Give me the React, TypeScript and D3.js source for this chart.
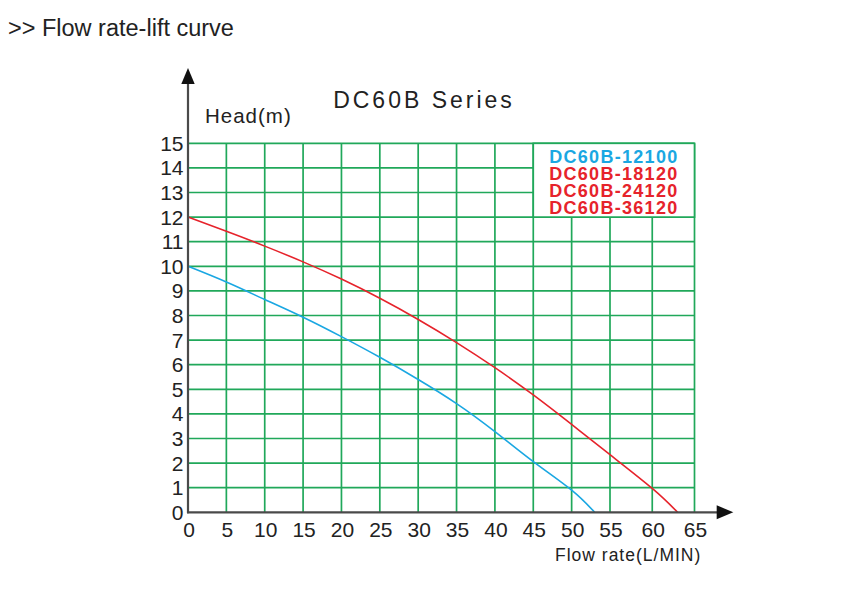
import * as d3 from "d3";

// Flow rate (L/MIN) vs head (m)
const flowTicks = [0, 5, 10, 15, 20, 25, 30, 35, 40, 45, 50, 55, 60, 65];
const headTicks = [0, 1, 2, 3, 4, 5, 6, 7, 8, 9, 10, 11, 12, 13, 14, 15];

const blueFlow = [0, 5, 10, 15, 20, 25, 30, 35, 40, 45, 50, 53];
const blueHead = [10, 9.36, 8.65, 7.93, 7.14, 6.3, 5.4, 4.42, 3.28, 2.06, 0.9, 0];

const redFlow = [0, 5, 10, 15, 20, 25, 30, 35, 40, 45, 50, 55, 60, 63];
const redHead = [12, 11.42, 10.82, 10.18, 9.48, 8.7, 7.84, 6.9, 5.88, 4.77, 3.57, 2.34, 0.97, 0];

const legendItems = [
  { label: "DC60B-12100", color: "#1aa7e2" },
  { label: "DC60B-18120", color: "#e6232b" },
  { label: "DC60B-24120", color: "#e6232b" },
  { label: "DC60B-36120", color: "#e6232b" },
];

const WIDTH = 841;
const HEIGHT = 596;
const FONT = "'Liberation Sans', Arial, Helvetica, sans-serif";
const GRID = "#20a85a";
const AXIS = "#4a4a4a";

export default function App() {
  // the original grid is slightly stretched past 55
  const x = d3.scaleLinear().domain([0, 55, 65]).range([188, 610, 694.5]);
  const y = d3.scaleLinear().domain([0, 15]).range([512.3, 143.3]);

  const line = d3
    .line<[number, number]>()
    .x((d) => x(d[0]))
    .y((d) => y(d[1]))
    .curve(d3.curveNatural);

  const bluePts = blueFlow.map((f, i) => [f, blueHead[i]] as [number, number]);
  const redPts = redFlow.map((f, i) => [f, redHead[i]] as [number, number]);

  const x0 = x(0);
  const y0 = y(0);
  const xMax = x(65);
  const yMax = y(15);

  const boxX = x(45);
  const boxW = x(65) - x(45);
  const boxY = y(15);
  const boxH = y(12) - y(15);
  const boxCx = boxX + boxW / 2;

  return (
    <svg
      width={WIDTH}
      height={HEIGHT}
      style={{ position: "absolute", left: 0, top: 0, background: "#fff" }}
      fontFamily={FONT}
    >
      <text x={8} y={36} fontSize={23.5} fill="#222">
        {">> Flow rate-lift curve"}
      </text>

      {/* grid */}
      <g stroke={GRID} strokeWidth={1.7}>
        {headTicks.slice(1).map((h) => (
          <line key={"h" + h} x1={x0} x2={xMax} y1={y(h)} y2={y(h)} />
        ))}
        {flowTicks.slice(1).map((f) => (
          <line key={"v" + f} x1={x(f)} x2={x(f)} y1={y0} y2={yMax} />
        ))}
      </g>

      {/* legend box */}
      <rect x={boxX} y={boxY} width={boxW} height={boxH} fill="#fff" stroke={GRID} strokeWidth={1.7} />
      {legendItems.map((d, i) => (
        <text
          key={d.label}
          x={boxCx}
          y={162.7 + i * 17.2}
          textAnchor="middle"
          fontSize={18}
          fontWeight="bold"
          letterSpacing={1.3}
          fill={d.color}
        >
          {d.label}
        </text>
      ))}

      {/* curves */}
      <path d={line(bluePts) ?? ""} fill="none" stroke="#1aa7e2" strokeWidth={1.6} />
      <path d={line(redPts) ?? ""} fill="none" stroke="#e6232b" strokeWidth={1.6} />

      {/* axes */}
      <line x1={x0} x2={x0} y1={y0 + 1} y2={80} stroke={AXIS} strokeWidth={2.2} />
      <line x1={x0 - 1} x2={720} y1={y0} y2={y0} stroke={AXIS} strokeWidth={2.2} />
      <path d={`M${x0},68 L${x0 - 6.7},84 L${x0 + 6.7},84 Z`} fill="#111" />
      <path d={`M733.3,${y0} L716.7,${y0 - 7} L716.7,${y0 + 7} Z`} fill="#111" />

      {/* tick labels */}
      {headTicks.map((h) => (
        <text key={"yl" + h} x={183.5} y={y(h) + 7.5} textAnchor="end" fontSize={21} fill="#222">
          {h}
        </text>
      ))}
      {flowTicks.map((f) => (
        <text key={"xl" + f} x={x(f) + 1} y={537} textAnchor="middle" fontSize={21} fill="#222">
          {f}
        </text>
      ))}

      <text x={424} y={108} textAnchor="middle" fontSize={23} letterSpacing={3} fill="#222">
        DC60B Series
      </text>
      <text x={205} y={122.5} fontSize={20.5} letterSpacing={1} fill="#222">
        Head(m)
      </text>
      <text x={555} y={561} fontSize={17.5} letterSpacing={1} fill="#222">
        Flow rate(L/MIN)
      </text>
    </svg>
  );
}
